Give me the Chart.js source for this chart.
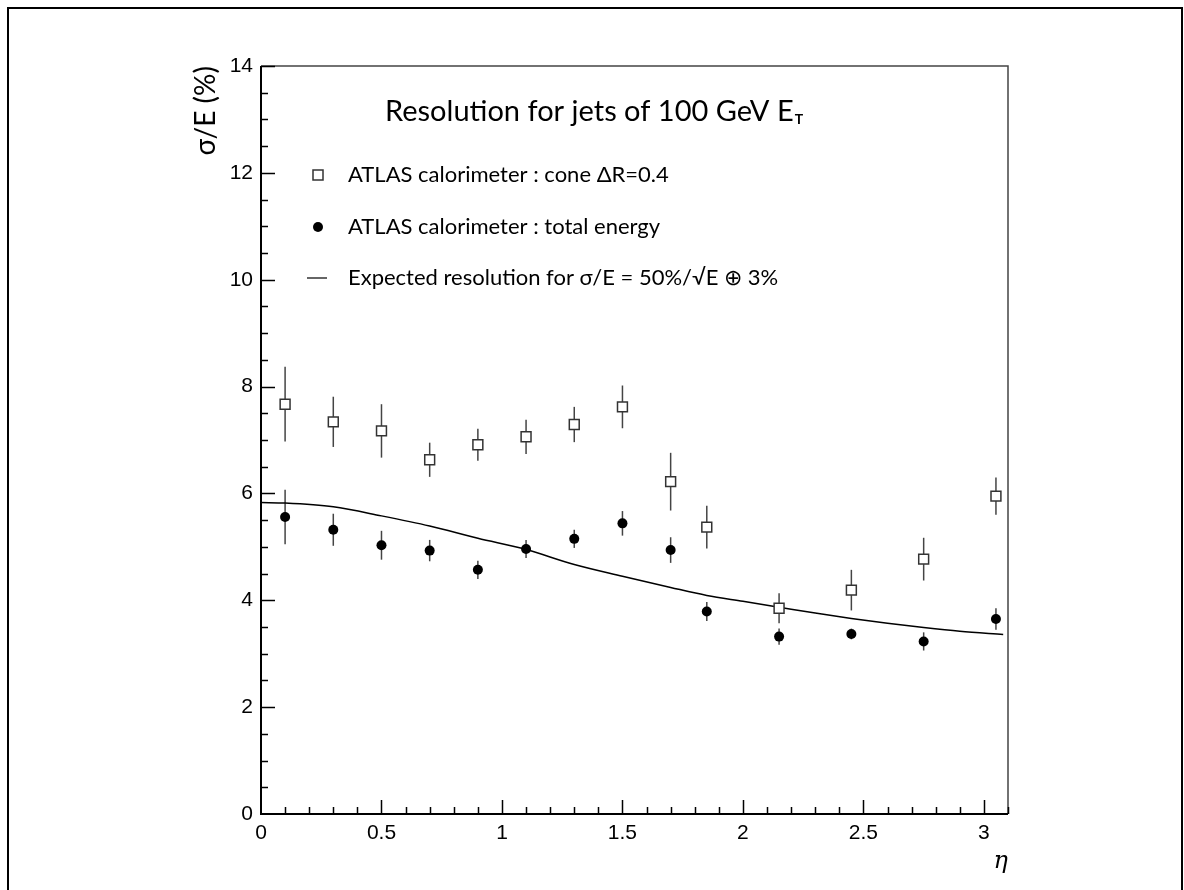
<!DOCTYPE html>
<html>
<head>
<meta charset="utf-8">
<title>Resolution for jets of 100 GeV ET</title>
<script src="https://cdn.jsdelivr.net/npm/chart.js@4.4.0/dist/chart.umd.min.js"></script>
<style>
    html, body { margin: 0; padding: 0; background: #fff; }
    #wrap { position: relative; width: 1184px; height: 890px; }
    #frame { position: absolute; left: 7px; top: 7px; right: 1px; bottom: -4px; border: 2px solid #000; pointer-events: none; }
</style>
</head>
<body>
<div id="wrap">
    <canvas id="resChart" width="1184" height="890"></canvas>
    <div id="frame"></div>
</div>
<script>
// Data
const etaBins = [0.1, 0.3, 0.5, 0.7, 0.9, 1.1, 1.3, 1.5, 1.7, 1.85, 2.15, 2.45, 2.75, 3.05];

// ATLAS calorimeter, cone dR=0.4 (open squares)
const coneRes = [7.67, 7.34, 7.17, 6.63, 6.91, 7.06, 7.29, 7.62, 6.22, 5.37, 3.85, 4.19, 4.77, 5.95];
const coneErr = [0.70, 0.47, 0.50, 0.32, 0.30, 0.32, 0.33, 0.40, 0.54, 0.40, 0.28, 0.38, 0.40, 0.35];

// ATLAS calorimeter, total energy (filled circles)
const totalRes = [5.56, 5.32, 5.03, 4.93, 4.57, 4.96, 5.15, 5.44, 4.94, 3.79, 3.32, 3.37, 3.23, 3.65];
const totalErr = [0.51, 0.30, 0.27, 0.20, 0.17, 0.17, 0.17, 0.23, 0.24, 0.18, 0.15, 0.10, 0.17, 0.20];

// Expected resolution curve
const curveEta = [0, 0.1, 0.3, 0.5, 0.7, 0.9, 1.1, 1.3, 1.5, 1.7, 1.85, 2.0, 2.15, 2.3, 2.45, 2.6, 2.75, 2.9, 3.08];
const curveRes = [5.83, 5.82, 5.75, 5.58, 5.39, 5.16, 4.95, 4.67, 4.45, 4.24, 4.09, 3.98, 3.87, 3.76, 3.66, 3.57, 3.49, 3.42, 3.36];

// Axis ranges
const X_MIN = 0, X_MAX = 3.1, X_STEP = 0.5, X_MINOR = 0.1;
const Y_MIN = 0, Y_MAX = 14, Y_STEP = 2, Y_MINOR = 0.5;

const toPoints = (xs, ys) => xs.map((x, i) => ({ x: x, y: ys[i] }));

const INK = '#000';
const LABEL_FONT = 'Lato, "Noto Sans", sans-serif';

// Vertical error bars, drawn under the markers
const errorBarPlugin = {
    id: 'errorBars',
    beforeDatasetsDraw(chart) {
        const ctx = chart.ctx;
        const xs = chart.scales.x;
        const ys = chart.scales.y;
        ctx.save();
        ctx.strokeStyle = '#444';
        ctx.lineWidth = 1.5;
        chart.data.datasets.forEach(ds => {
            if (!ds.errors) return;
            ds.data.forEach((p, i) => {
                const px = xs.getPixelForValue(p.x);
                ctx.beginPath();
                ctx.moveTo(px, ys.getPixelForValue(p.y - ds.errors[i]));
                ctx.lineTo(px, ys.getPixelForValue(p.y + ds.errors[i]));
                ctx.stroke();
            });
        });
        ctx.restore();
    }
};

// Frame and inward tick marks (PAW style)
const framePlugin = {
    id: 'frame',
    afterDraw(chart) {
        const ctx = chart.ctx;
        const a = chart.chartArea;
        const xs = chart.scales.x;
        const ys = chart.scales.y;
        ctx.save();

        // top and right edges
        ctx.strokeStyle = '#444';
        ctx.lineWidth = 1.5;
        ctx.beginPath();
        ctx.moveTo(a.left, a.top);
        ctx.lineTo(a.right, a.top);
        ctx.lineTo(a.right, a.bottom);
        ctx.stroke();

        // left and bottom axes
        ctx.strokeStyle = INK;
        ctx.lineWidth = 2;
        ctx.beginPath();
        ctx.moveTo(a.left, a.top);
        ctx.lineTo(a.left, a.bottom);
        ctx.lineTo(a.right, a.bottom);
        ctx.stroke();

        ctx.lineWidth = 1.5;
        ctx.beginPath();
        const nx = Math.round((X_MAX - X_MIN) / X_MINOR);
        for (let i = 1; i <= nx; i++) {
            const v = X_MIN + i * X_MINOR;
            const major = i % Math.round(X_STEP / X_MINOR) === 0;
            const px = Math.round(xs.getPixelForValue(v)) + 0.5;
            ctx.moveTo(px, a.bottom);
            ctx.lineTo(px, a.bottom - (major ? 14 : 7));
        }
        const ny = Math.round((Y_MAX - Y_MIN) / Y_MINOR);
        for (let i = 1; i <= ny; i++) {
            const v = Y_MIN + i * Y_MINOR;
            const major = i % Math.round(Y_STEP / Y_MINOR) === 0;
            const py = Math.round(ys.getPixelForValue(v)) + 0.5;
            ctx.moveTo(a.left, py);
            ctx.lineTo(a.left + (major ? 14 : 7), py);
        }
        ctx.stroke();
        ctx.restore();
    }
};

// Title and in-plot legend
const legendPlugin = {
    id: 'inPlotLegend',
    afterDraw(chart) {
        const ctx = chart.ctx;
        const a = chart.chartArea;
        ctx.save();
        ctx.fillStyle = INK;
        ctx.textBaseline = 'middle';
        ctx.textAlign = 'left';

        // title
        const title = 'Resolution for jets of 100 GeV E';
        ctx.font = '29px ' + LABEL_FONT;
        const tx = a.left + 124;
        const ty = a.top + 46;
        ctx.fillText(title, tx, ty);
        const tw = ctx.measureText(title).width;
        ctx.font = 'bold 14px ' + LABEL_FONT;
        ctx.fillText('T', tx + tw + 1, ty + 7);

        const symX = a.left + 57;
        const textX = a.left + 87;
        const rows = [a.top + 109, a.top + 161, a.top + 212];

        // open square
        ctx.strokeStyle = '#333';
        ctx.lineWidth = 1.5;
        ctx.strokeRect(symX - 5, rows[0] - 5, 10, 10);
        // filled circle
        ctx.beginPath();
        ctx.arc(symX, rows[1], 5, 0, Math.PI * 2);
        ctx.fill();
        // line
        ctx.strokeStyle = INK;
        ctx.lineWidth = 1.2;
        ctx.beginPath();
        ctx.moveTo(symX - 11, rows[2]);
        ctx.lineTo(symX + 9, rows[2]);
        ctx.stroke();

        ctx.font = '22px ' + LABEL_FONT;
        ctx.fillText('ATLAS calorimeter : cone \u0394R=0.4', textX, rows[0]);
        ctx.fillText('ATLAS calorimeter : total energy', textX, rows[1]);
        ctx.fillText('Expected resolution for \u03c3/E = 50%/\u221aE \u2295 3%', textX, rows[2]);
        ctx.restore();
    }
};

const ctx = document.getElementById('resChart').getContext('2d');
const resChart = new Chart(ctx, {
    type: 'scatter',
    data: {
        datasets: [
            {
                label: 'ATLAS calorimeter : cone \u0394R=0.4',
                data: toPoints(etaBins, coneRes),
                errors: coneErr,
                pointStyle: 'rect',
                pointRadius: 7,
                pointBackgroundColor: '#fff',
                pointBorderColor: '#333',
                pointBorderWidth: 1.5,
                showLine: false
            },
            {
                label: 'ATLAS calorimeter : total energy',
                data: toPoints(etaBins, totalRes),
                errors: totalErr,
                pointStyle: 'circle',
                pointRadius: 5,
                pointBackgroundColor: '#000',
                pointBorderColor: '#000',
                pointBorderWidth: 0,
                showLine: false
            },
            {
                label: 'Expected resolution',
                data: toPoints(curveEta, curveRes),
                showLine: true,
                borderColor: '#000',
                borderWidth: 1.5,
                pointRadius: 0,
                cubicInterpolationMode: 'monotone',
                fill: false
            }
        ]
    },
    options: {
        responsive: false,
        animation: false,
        layout: { padding: { left: 181, top: 66, right: 176, bottom: 14 } },
        plugins: {
            legend: { display: false },
            tooltip: { enabled: false }
        },
        scales: {
            x: {
                type: 'linear',
                min: X_MIN,
                max: X_MAX,
                afterFit(scale) { scale.height = 62; },
                grid: { display: false, drawTicks: false },
                border: { display: false },
                ticks: {
                    stepSize: X_STEP,
                    includeBounds: false,
                    padding: 7,
                    color: INK,
                    maxRotation: 0,
                    autoSkip: false,
                    font: { family: '"Liberation Sans", Arial, sans-serif', size: 21 },
                    callback: v => String(v)
                },
                title: {
                    display: true,
                    text: '\u03b7',
                    align: 'end',
                    color: INK,
                    padding: 0,
                    font: { family: '"DejaVu Serif", serif', style: 'italic', size: 24 }
                }
            },
            y: {
                type: 'linear',
                min: Y_MIN,
                max: Y_MAX,
                afterFit(scale) { scale.width = 80; },
                grid: { display: false, drawTicks: false },
                border: { display: false },
                ticks: {
                    stepSize: Y_STEP,
                    padding: 8,
                    color: INK,
                    font: { family: '"Liberation Sans", Arial, sans-serif', size: 21 },
                    callback: v => String(v)
                },
                title: {
                    display: true,
                    text: '\u03c3/E (%)',
                    align: 'end',
                    color: INK,
                    padding: { top: 8, bottom: 0 },
                    font: { family: LABEL_FONT, size: 28 }
                }
            }
        }
    },
    plugins: [errorBarPlugin, framePlugin, legendPlugin]
});
</script>
</body>
</html>
